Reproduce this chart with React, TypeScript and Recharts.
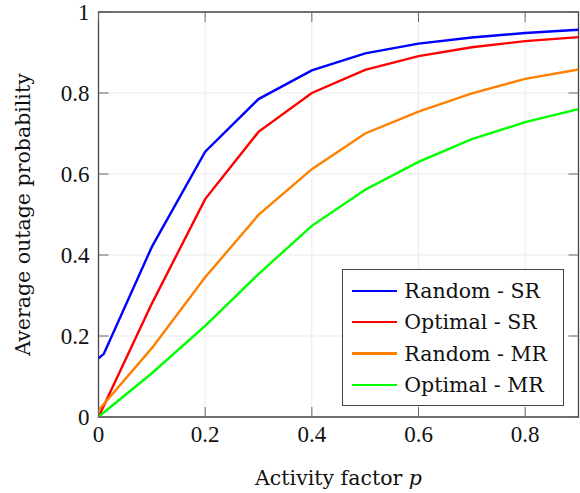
import React from "react";
import {
  LineChart,
  Line,
  XAxis,
  YAxis,
  CartesianGrid,
  ReferenceArea,
  Legend,
  Label,
} from "recharts";

// Activity factor p (x values)
const activity = [0, 0.01, 0.1, 0.2, 0.3, 0.4, 0.5, 0.6, 0.7, 0.8, 0.9];

// Average outage probability per scheme
const randomSR = [0.145, 0.156, 0.42, 0.655, 0.785, 0.856, 0.898, 0.922, 0.937, 0.948, 0.956];
const optimalSR = [0, 0.028, 0.28, 0.538, 0.704, 0.8, 0.857, 0.891, 0.913, 0.928, 0.938];
const randomMR = [0.017, 0.032, 0.17, 0.345, 0.499, 0.612, 0.7, 0.754, 0.799, 0.835, 0.858];
const optimalMR = [0, 0.011, 0.108, 0.225, 0.353, 0.472, 0.561, 0.63, 0.686, 0.728, 0.76];

const xTicks = [0, 0.2, 0.4, 0.6, 0.8];
const yTicks = [0, 0.2, 0.4, 0.6, 0.8, 1];

const series = [
  { key: "randomSR", name: "Random - SR", color: "#0000ff", values: randomSR },
  { key: "optimalSR", name: "Optimal - SR", color: "#ff0000", values: optimalSR },
  { key: "randomMR", name: "Random - MR", color: "#ff8000", values: randomMR },
  { key: "optimalMR", name: "Optimal - MR", color: "#00ff00", values: optimalMR },
];

const data = activity.map((p, i) => {
  const row: Record<string, number> = { p };
  series.forEach((s) => {
    row[s.key] = s.values[i];
  });
  return row;
});

// Chart frame
const W = 580;
const H = 493;
const M_TOP = 12;
const M_RIGHT = 1.5;
const Y_AXIS_W = 98.5;
const X_AXIS_H = 76;
const PLOT_TOP = M_TOP;
const PLOT_RIGHT = W - M_RIGHT;
const TICK_LEN = 10;

const TICK_FONT = "'Liberation Serif', serif";
const TEXT_FONT = "'DejaVu Serif', serif";
const TICK_COLOR = "#666";
const FRAME_COLOR = "#444";
const LINE_W = 2.4;

const XTick = (props: any) => {
  const { x, y, payload } = props;
  return (
    <g>
      <line x1={x} y1={y} x2={x} y2={y - TICK_LEN} stroke={TICK_COLOR} strokeWidth={1} />
      <line x1={x} y1={PLOT_TOP} x2={x} y2={PLOT_TOP + TICK_LEN} stroke={TICK_COLOR} strokeWidth={1} />
      <text x={x} y={y + 25} textAnchor="middle" fontFamily={TICK_FONT} fontSize={23} fill="#111">
        {String(payload.value)}
      </text>
    </g>
  );
};

const YTick = (props: any) => {
  const { x, y, payload } = props;
  return (
    <g>
      <line x1={x} y1={y} x2={x + TICK_LEN} y2={y} stroke={TICK_COLOR} strokeWidth={1} />
      <line x1={PLOT_RIGHT - TICK_LEN} y1={y} x2={PLOT_RIGHT} y2={y} stroke={TICK_COLOR} strokeWidth={1} />
      <text x={x - 9} y={y + 7.5} textAnchor="end" fontFamily={TICK_FONT} fontSize={23} fill="#111">
        {String(payload.value)}
      </text>
    </g>
  );
};

// Legend keeps the series order
const LegendBox = () => (
  <div
    style={{
      boxSizing: "border-box",
      width: 222,
      border: `1.3px solid ${FRAME_COLOR}`,
      background: "#fff",
      padding: "5px 0",
    }}
  >
    {series.map((s) => (
      <div key={s.key} style={{ display: "flex", alignItems: "center", height: 31.3 }}>
        <div style={{ marginLeft: 9, width: 45, height: LINE_W, background: s.color }} />
        <span
          style={{
            marginLeft: 7,
            fontFamily: TEXT_FONT,
            fontSize: 20.5,
            color: "#111",
            whiteSpace: "nowrap",
          }}
        >
          {s.name}
        </span>
      </div>
    ))}
  </div>
);

export default function App() {
  return (
    <div style={{ position: "absolute", left: 0, top: 0, width: W, height: H, background: "#fff" }}>
      <LineChart
        width={W}
        height={H}
        data={data}
        margin={{ top: M_TOP, right: M_RIGHT, bottom: 0, left: 0 }}
      >
        <CartesianGrid stroke="#ebebeb" strokeWidth={1} />
        <XAxis
          dataKey="p"
          type="number"
          domain={[0, 0.9]}
          ticks={xTicks}
          allowDataOverflow
          height={X_AXIS_H}
          axisLine={false}
          tickLine={false}
          tickSize={0}
          tickMargin={0}
          tick={<XTick />}
          interval={0}
        >
          <Label
            content={(p: any) => {
              const vb = p.viewBox || {};
              const cx = vb.x + vb.width / 2;
              return (
                <text
                  x={cx}
                  y={485}
                  textAnchor="middle"
                  fontFamily={TEXT_FONT}
                  fontSize={20.5}
                  fill="#111"
                >
                  Activity factor{" "}
                  <tspan fontStyle="italic">p</tspan>
                </text>
              );
            }}
          />
        </XAxis>
        <YAxis
          type="number"
          domain={[0, 1]}
          ticks={yTicks}
          allowDataOverflow
          width={Y_AXIS_W}
          axisLine={false}
          tickLine={false}
          tickSize={0}
          tickMargin={0}
          tick={<YTick />}
          interval={0}
        >
          <Label
            content={(p: any) => {
              const vb = p.viewBox || {};
              const cy = vb.y + vb.height / 2;
              const cx = 30;
              return (
                <text
                  x={cx}
                  y={cy}
                  transform={`rotate(-90, ${cx}, ${cy})`}
                  textAnchor="middle"
                  fontFamily={TEXT_FONT}
                  fontSize={20.5}
                  fill="#111"
                >
                  Average outage probability
                </text>
              );
            }}
          />
        </YAxis>
        <ReferenceArea
          x1={0}
          x2={0.9}
          y1={0}
          y2={1}
          fill="none"
          fillOpacity={0}
          stroke={FRAME_COLOR}
          strokeWidth={1.3}
          ifOverflow="visible"
        />
        {series.map((s) => (
          <Line
            key={s.key}
            dataKey={s.key}
            name={s.name}
            stroke={s.color}
            strokeWidth={LINE_W}
            dot={false}
            activeDot={false}
            type="linear"
            isAnimationActive={false}
          />
        ))}
        <Legend
          layout="horizontal"
          verticalAlign="middle"
          align="center"
          content={<LegendBox />}
          wrapperStyle={{ left: 342.3, top: 269.3, width: 222, height: "auto" }}
        />
      </LineChart>
    </div>
  );
}
